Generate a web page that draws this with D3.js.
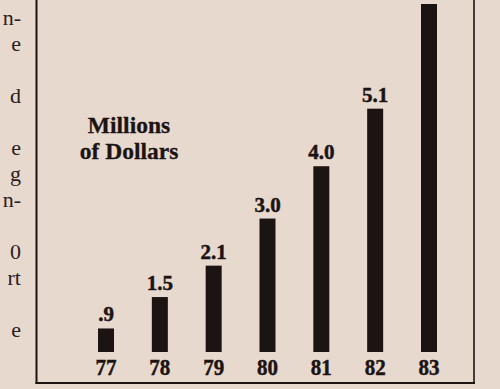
<!DOCTYPE html>
<html>
<head>
<meta charset="utf-8">
<script src="https://cdn.jsdelivr.net/npm/d3@7"></script>
<style>
  html, body { margin: 0; padding: 0; background: #e8d9ce; }
  svg { display: block; }
</style>
</head>
<body>
<svg id="chart" width="500" height="389"></svg>
<script>
// Annual totals, millions of dollars
const years = ["77", "78", "79", "80", "81", "82", "83"];
const values = [0.9, 1.5, 2.1, 3.0, 4.0, 5.1, 7.1];
const valueLabels = [".9", "1.5", "2.1", "3.0", "4.0", "5.1", null];
const unitLines = ["Millions", "of Dollars"];

// Ends of lines from the neighbouring text column (line index, text)
const columnLines = [[0, "n-"], [1, "e"], [3, "d"], [5, "e"], [6, "g"], [7, "n-"], [9, "0"], [10, "rt"], [12, "e"]];

const ink = "#1c1413";
const svg = d3.select("#chart");

const frame = { left: 36.5, right: 474, bottom: 383 };
const baseline = 352;

const x = d3.scalePoint().domain(years).range([106, 429]);
const y = d3.scaleLinear().domain([0.45, 7.1]).range([baseline, 4]);
const barWidth = 16;

// neighbouring column text
svg.append("g")
  .selectAll("text")
  .data(columnLines)
  .join("text")
  .attr("x", 21)
  .attr("y", d => 25 + d[0] * 26)
  .attr("text-anchor", "end")
  .attr("font-family", "Liberation Serif, serif")
  .attr("font-size", 22)
  .attr("fill", "#2a201d")
  .text(d => d[1]);

// box rules
svg.append("line")
  .attr("x1", frame.left).attr("x2", frame.left)
  .attr("y1", 0).attr("y2", frame.bottom + 1)
  .attr("stroke", ink).attr("stroke-width", 2);
svg.append("line")
  .attr("x1", frame.right).attr("x2", frame.right)
  .attr("y1", 0).attr("y2", frame.bottom + 1)
  .attr("stroke", ink).attr("stroke-width", 1.6);
svg.append("line")
  .attr("x1", frame.left - 1).attr("x2", frame.right + 1)
  .attr("y1", frame.bottom).attr("y2", frame.bottom)
  .attr("stroke", ink).attr("stroke-width", 2);

// bars
svg.append("g")
  .selectAll("rect")
  .data(values)
  .join("rect")
  .attr("x", (d, i) => x(years[i]) - barWidth / 2)
  .attr("y", d => y(d))
  .attr("width", barWidth)
  .attr("height", d => baseline - y(d))
  .attr("fill", ink);

// value labels
svg.append("g")
  .selectAll("text")
  .data(values.map((v, i) => ({ v, i, label: valueLabels[i] })).filter(d => d.label))
  .join("text")
  .attr("x", d => x(years[d.i]))
  .attr("y", d => y(d.v) - 7)
  .attr("text-anchor", "middle")
  .attr("font-family", "Liberation Serif, serif")
  .attr("font-weight", "bold")
  .attr("font-size", 21)
  .attr("fill", ink)
  .attr("stroke", ink)
  .attr("stroke-width", 0.5)
  .text(d => d.label);

// year labels
svg.append("g")
  .selectAll("text")
  .data(years)
  .join("text")
  .attr("x", d => x(d))
  .attr("y", 375)
  .attr("text-anchor", "middle")
  .attr("font-family", "Liberation Serif, serif")
  .attr("font-weight", "bold")
  .attr("font-size", 24)
  .attr("textLength", 21)
  .attr("lengthAdjust", "spacingAndGlyphs")
  .attr("fill", ink)
  .attr("stroke", ink)
  .attr("stroke-width", 0.5)
  .text(d => d);

// unit caption
svg.append("g")
  .selectAll("text")
  .data(unitLines)
  .join("text")
  .attr("x", 129)
  .attr("y", (d, i) => 133 + i * 26)
  .attr("text-anchor", "middle")
  .attr("font-family", "Liberation Serif, serif")
  .attr("font-weight", "bold")
  .attr("font-size", 23.5)
  .attr("fill", ink)
  .attr("stroke", ink)
  .attr("stroke-width", 0.3)
  .text(d => d);
</script>
</body>
</html>
